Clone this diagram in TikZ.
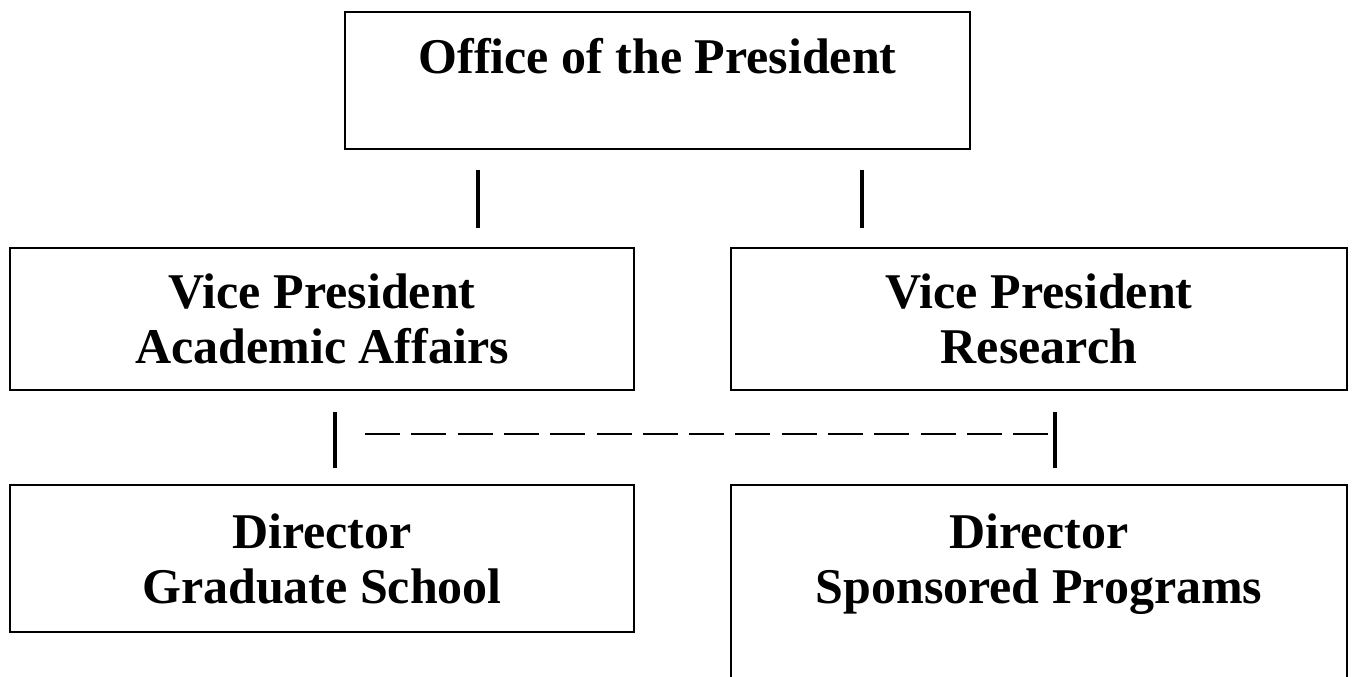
\documentclass[tikz,border=0pt]{standalone}
\usepackage{fontspec}
\setmainfont{Liberation Serif}

\tikzset{
  orgbox/.style={draw, line width=2.5pt, align=center, inner sep=0pt,
    font=\fontsize{50}{55}\selectfont\bfseries},
  bar/.style={line width=3.5pt},
  dashlink/.style={line width=2pt, dash pattern=on 35pt off 11.3pt}
}

\begin{document}
\begin{tikzpicture}[x=1pt, y=-1pt]
\clip (0,0) rectangle (1358,677);
\node[orgbox, minimum width=625pt, minimum height=137pt, text height=36pt, text depth=49pt] (pres) at (657.5,80.5) {Office of the President};
\node[orgbox, minimum width=624pt, minimum height=142pt] (vpaa) at (322,319) {Vice President\\Academic Affairs};
\node[orgbox, minimum width=616pt, minimum height=142pt] (vpr) at (1039,319) {Vice President\\Research};
\node[orgbox, minimum width=624pt, minimum height=147pt] (dirgs) at (322,558.5) {Director\\Graduate School};
\node[orgbox, minimum width=616pt, minimum height=235pt] (dirsp) at (1039,602.5) {Director\\Sponsored Programs\\[33pt]\mbox{}};

\coordinate (presl) at (478,170);
\coordinate (vpaat) at (478,228);
\coordinate (presr) at (862,170);
\coordinate (vprt) at (862,228);
\coordinate (vpaab) at (335,412);
\coordinate (dirgst) at (335,468);
\coordinate (vprb) at (1055,412);
\coordinate (dirspt) at (1055,468);
\coordinate (dashl) at (365,434);
\coordinate (dashr) at (1055,434);

\foreach \a/\b in {presl/vpaat, presr/vprt, vpaab/dirgst, vprb/dirspt}
  \draw[bar] (\a) -- (\b);
\draw[dashlink] (dashl) -- (dashr);
\end{tikzpicture}
\end{document}
